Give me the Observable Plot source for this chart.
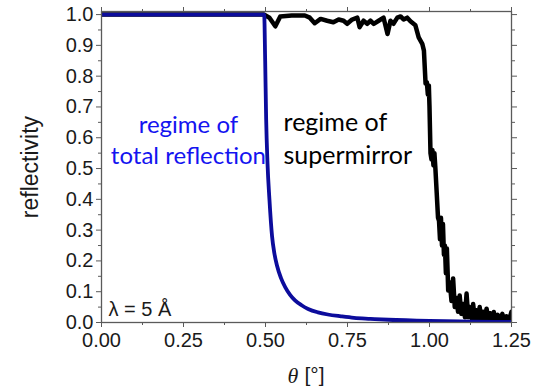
<!DOCTYPE html>
<html><head><meta charset="utf-8">
<script src="https://cdn.jsdelivr.net/npm/d3@7"></script>
<script src="https://cdn.jsdelivr.net/npm/@observablehq/plot@0.6"></script>
<style>body{margin:0;background:#fff}svg{display:block}</style>
</head><body><div id="chart"></div>
<script>
const xMajor = [0, 0.25, 0.5, 0.75, 1.0, 1.25];
const xMinor = [0.125, 0.375, 0.625, 0.875, 1.125];
const yMajor = [0, 0.1, 0.2, 0.3, 0.4, 0.5, 0.6, 0.7, 0.8, 0.9, 1.0];
const yMinor = [0.05, 0.15, 0.25, 0.35, 0.45, 0.55, 0.65, 0.75, 0.85, 0.95];

const thetaBlue = [0, 0.496, 0.499, 0.502, 0.506, 0.512, 0.520, 0.527, 0.535, 0.547, 0.560, 0.575, 0.590, 0.610, 0.630, 0.660, 0.690, 0.730, 0.770, 0.820, 0.875, 1.000, 1.125, 1.250];
const rBlue     = [1.0, 1.0, 0.85, 0.66, 0.52, 0.40, 0.28, 0.225, 0.185, 0.145, 0.115, 0.09, 0.072, 0.056, 0.044, 0.033, 0.026, 0.02, 0.015, 0.012, 0.009, 0.005, 0.003, 0.002];

const thetaBlack = [0, 0.495, 0.512, 0.53, 0.545, 0.58, 0.62, 0.635, 0.65, 0.668, 0.688, 0.707, 0.723, 0.738, 0.749, 0.764, 0.78, 0.787, 0.799, 0.81, 0.82, 0.83, 0.845, 0.86, 0.872, 0.881, 0.89, 0.902, 0.912, 0.921, 0.932, 0.942, 0.957, 0.967, 0.978, 0.983, 0.988, 0.992, 0.995, 0.998, 1.000, 1.003, 1.006, 1.009, 1.012, 1.015, 1.018, 1.022, 1.026, 1.029, 1.032, 1.035, 1.038, 1.041, 1.044, 1.047, 1.050, 1.053, 1.057, 1.062, 1.067, 1.072, 1.077, 1.082, 1.087, 1.092, 1.097, 1.102, 1.108, 1.113, 1.118, 1.123, 1.128, 1.133, 1.138, 1.143, 1.148, 1.153, 1.158, 1.163, 1.169, 1.174, 1.180, 1.185, 1.191, 1.196, 1.202, 1.208, 1.215, 1.222, 1.229, 1.235, 1.242, 1.25];
const rBlack = [1.0, 1.0, 0.99, 0.962, 0.994, 0.997, 0.997, 0.99, 0.972, 0.986, 0.98, 0.975, 0.984, 0.98, 0.97, 0.984, 0.99, 0.959, 0.98, 0.97, 0.98, 0.97, 0.98, 0.99, 0.937, 0.98, 0.97, 0.99, 0.994, 0.984, 0.99, 0.978, 0.965, 0.926, 0.905, 0.883, 0.776, 0.78, 0.74, 0.77, 0.70, 0.55, 0.53, 0.56, 0.51, 0.55, 0.50, 0.42, 0.34, 0.33, 0.27, 0.34, 0.25, 0.32, 0.22, 0.25, 0.16, 0.24, 0.104, 0.13, 0.07, 0.143, 0.05, 0.08, 0.035, 0.088, 0.028, 0.06, 0.017, 0.094, 0.017, 0.05, 0.013, 0.06, 0.012, 0.04, 0.01, 0.05, 0.01, 0.035, 0.008, 0.045, 0.008, 0.03, 0.007, 0.034, 0.006, 0.025, 0.006, 0.028, 0.005, 0.02, 0.005, 0.035];

const blueLabel = ["regime of\ntotal reflection"];
const blackLabel = ["regime of\nsupermirror"];
const labelPos = {blue: [0.265, 0.516], black: [0.555, 0.516]};

const blue = thetaBlue.map((t, i) => ({t, r: rBlue[i]}));
const black = thetaBlack.map((t, i) => ({t, r: rBlack[i]}));

const axisColor = "#5a5a5a";
const textColor = "#1a1a1a";
const sans = "'Liberation Sans', Arial, sans-serif";
const annoFont = "Lato, sans-serif";

const chart = Plot.plot({
  width: 536, height: 388,
  marginLeft: 101, marginRight: 25, marginTop: 11, marginBottom: 66,
  style: {fontFamily: sans, fontSize: "20px", color: textColor, background: "#fff"},
  x: {domain: [0, 1.25]},
  y: {domain: [0, 1.01]},
  marks: [
    Plot.line(black, {x: "t", y: "r", stroke: "#000", strokeWidth: 4.5, strokeLinejoin: "round", clip: true}),
    Plot.line(blue, {x: "t", y: "r", stroke: "#0c0c9c", strokeWidth: 3.8, strokeLinejoin: "round", curve: "monotone-x", clip: true}),
    Plot.frame({stroke: axisColor, strokeWidth: 1.3}),
    Plot.axisX({ticks: xMajor, tickSize: 5, tickPadding: 5, tickFormat: ".2f", stroke: axisColor, fill: textColor, fontSize: 20, fontFamily: sans, label: null}),
    Plot.axisX({ticks: xMinor, tickSize: 3, tickFormat: () => "", stroke: axisColor, label: null}),
    Plot.axisX({anchor: "top", ticks: xMajor, tickSize: 5, tickFormat: () => "", stroke: axisColor, label: null}),
    Plot.axisX({anchor: "top", ticks: xMinor, tickSize: 3, tickFormat: () => "", stroke: axisColor, label: null}),
    Plot.axisY({ticks: yMajor, tickSize: 5, tickPadding: 3, tickFormat: ".1f", stroke: axisColor, fill: textColor, fontSize: 20, fontFamily: sans, label: null}),
    Plot.axisY({ticks: yMinor, tickSize: 3, tickFormat: () => "", stroke: axisColor, label: null}),
    Plot.axisY({anchor: "right", ticks: yMajor, tickSize: 5, tickFormat: () => "", stroke: axisColor, label: null}),
    Plot.axisY({anchor: "right", ticks: yMinor, tickSize: 3, tickFormat: () => "", stroke: axisColor, label: null}),
    Plot.text(blueLabel, {x: () => labelPos.blue[0], y: () => labelPos.blue[1], text: d => d, textAnchor: "middle", lineAnchor: "bottom", lineHeight: 1.29, fontSize: 24, fontFamily: annoFont, fill: "#1414f0"}),
    Plot.text(blackLabel, {x: () => labelPos.black[0], y: () => labelPos.black[1], text: d => d, textAnchor: "start", lineAnchor: "bottom", lineHeight: 1.29, fontSize: 25, fontFamily: annoFont, fill: "#000"}),
    Plot.text(["λ = 5 Å"], {frameAnchor: "bottom-left", dx: 7, dy: -7, lineAnchor: "bottom", textAnchor: "start", fontSize: 20, fontFamily: sans, fill: textColor}),
    Plot.text(["reflectivity"], {frameAnchor: "left", rotate: -90, dx: -71, textAnchor: "middle", lineAnchor: "middle", fontSize: 23, fontFamily: sans, fill: textColor}),
    Plot.text(["θ"], {frameAnchor: "bottom", dy: 53, dx: -19, textAnchor: "start", lineAnchor: "middle", fontSize: 22, fontStyle: "italic", fontFamily: "'Liberation Serif', 'DejaVu Serif', serif", fill: textColor}),
    Plot.text(["[°]"], {frameAnchor: "bottom", dy: 53, dx: -2, textAnchor: "start", lineAnchor: "middle", fontSize: 21, fontFamily: sans, fill: textColor})
  ]
});
document.getElementById("chart").appendChild(chart);
</script></body></html>
